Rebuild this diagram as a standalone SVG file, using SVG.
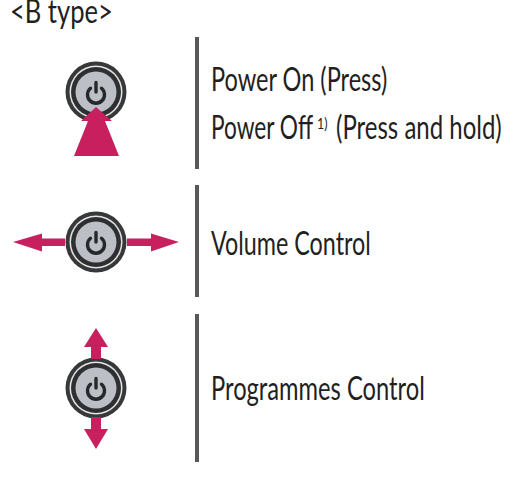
<svg xmlns="http://www.w3.org/2000/svg" width="530" height="478" viewBox="0 0 530 478">
<style>
text{font-family:"Lato","Liberation Sans",sans-serif;font-size:32px;fill:#231f20}
text.sup{font-size:16px}
.bar{fill:#58585a}
.arrow{fill:#c8205f}
.o{fill:#37383a}
.w{fill:#e4e4e4}
.i{fill:#2e2f31}
.g{fill:#bcc0c6}
.p{fill:none;stroke:#26282b;stroke-width:3.4;stroke-linecap:round}
</style>
<defs>
<g id="btn">
<circle class="o" r="30.5"/>
<circle class="w" r="26.500"/>
<circle class="i" r="25"/>
<circle class="g" r="20.500"/>
<path class="p" d="M-5.500-3.800A8.500 8.500 0 1 0 5.500-3.800M0-9.500V0"/>
</g>
</defs>
<rect width="530" height="478" fill="#fff"/>
<text id="title" transform="translate(10 23) scale(.75 1)" textLength="137" lengthAdjust="spacingAndGlyphs">&lt;B type&gt;</text>
<g id="bars">
<rect class="bar" x="195" y="37" width="4" height="132"/>
<rect class="bar" x="195" y="185" width="4" height="112"/>
<rect class="bar" x="195" y="314" width="4" height="148"/>
</g>
<g id="node-power">
<use href="#btn" x="96" y="92"/>
<text transform="translate(211 91) scale(.75 1)" textLength="235" lengthAdjust="spacingAndGlyphs">Power On (Press)</text>
<text transform="translate(211 139) scale(.75 1)" textLength="136" lengthAdjust="spacingAndGlyphs">Power Off</text>
<text class="sup" transform="translate(317 129) scale(.75 1)" textLength="14" lengthAdjust="spacingAndGlyphs">1)</text>
<text transform="translate(336 139) scale(.75 1)" textLength="221" lengthAdjust="spacingAndGlyphs">(Press and hold)</text>
</g>
<g id="node-volume">
<use href="#btn" x="96" y="242"/>
<text transform="translate(211 255) scale(.75 1)" textLength="213" lengthAdjust="spacingAndGlyphs">Volume Control</text>
</g>
<g id="node-programmes">
<use href="#btn" x="96" y="388"/>
<text transform="translate(211 400) scale(.75 1)" textLength="285" lengthAdjust="spacingAndGlyphs">Programmes Control</text>
</g>
<g id="connectors">
<path class="arrow" d="M96 107 112 121H105L119 156H74L88 121H81Z"/>
<path class="arrow" d="M13 242 42 233.500V238.500H65V246H42V251.500Z"/>
<path class="arrow" d="M179 242 151 233.500V238.500H127V246H151V251.500Z"/>
<path class="arrow" d="M96 328 108 347H101V359H91V347H84Z"/>
<path class="arrow" d="M96 449 108 429H101V417H91V429H84Z"/>
</g>
</svg>
